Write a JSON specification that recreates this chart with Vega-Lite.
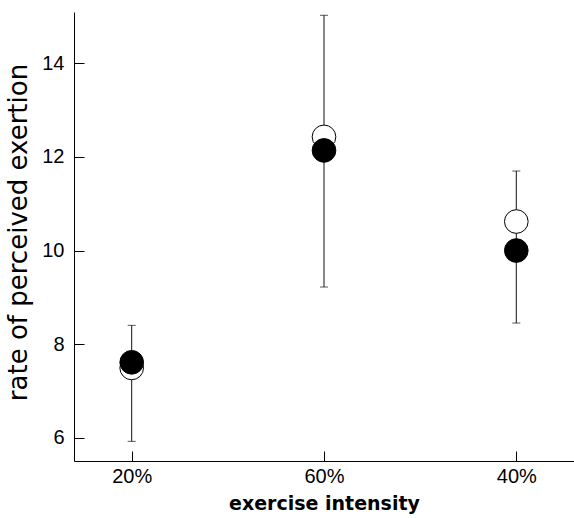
{
  "$schema": "https://vega.github.io/schema/vega-lite/v6.json",
  "width": 500,
  "height": 449,
  "autosize": "none",
  "padding": {"left": 74, "top": 12, "right": 0, "bottom": 57},
  "background": "white",
  "config": {
    "view": {"stroke": null},
    "axis": {
      "domainColor": "black",
      "tickColor": "black",
      "labelColor": "black",
      "titleColor": "black",
      "grid": false
    }
  },
  "data": {
    "values": [
      {"intensity": "20%", "open": 7.49, "filled": 7.61, "lo": 5.92, "hi": 8.40},
      {"intensity": "60%", "open": 12.43, "filled": 12.14, "lo": 9.22, "hi": 15.03},
      {"intensity": "40%", "open": 10.62, "filled": 10.0, "lo": 8.45, "hi": 11.70}
    ]
  },
  "encoding": {
    "x": {
      "field": "intensity",
      "type": "nominal",
      "sort": ["20%", "60%", "40%"],
      "scale": {"type": "point", "padding": 0.3},
      "axis": {
        "title": "exercise intensity",
        "titleFont": "DejaVu Sans",
        "titleFontSize": 19,
        "titleFontWeight": "bold",
        "titlePadding": 8,
        "labelAngle": 0,
        "labelFont": "Liberation Sans",
        "labelFontSize": 20,
        "tickSize": -10,
        "labelPadding": 15
      }
    }
  },
  "layer": [
    {
      "mark": {"type": "rule", "color": "#111", "strokeWidth": 1},
      "encoding": {
        "y": {
          "field": "lo",
          "type": "quantitative",
          "scale": {"domain": [5.5, 15.1], "nice": false, "zero": false},
          "axis": {
            "title": "rate of perceived exertion",
            "titleFont": "DejaVu Sans",
            "titleFontSize": 26,
            "titleFontWeight": "normal",
            "titleY": 220,
            "labelFont": "Liberation Sans",
            "labelFontSize": 20,
            "values": [6, 8, 10, 12, 14],
            "tickSize": -10,
            "labelPadding": 20,
            "titlePadding": 10
          }
        },
        "y2": {"field": "hi"}
      }
    },
    {
      "mark": {"type": "tick", "color": "#111", "size": 8, "thickness": 1},
      "encoding": {"y": {"field": "lo", "type": "quantitative"}}
    },
    {
      "mark": {"type": "tick", "color": "#111", "size": 8, "thickness": 1},
      "encoding": {"y": {"field": "hi", "type": "quantitative"}}
    },
    {
      "mark": {"type": "point", "shape": "circle", "size": 560, "filled": true, "fill": "white", "stroke": "black", "strokeWidth": 1, "opacity": 1},
      "encoding": {"y": {"field": "open", "type": "quantitative"}}
    },
    {
      "mark": {"type": "point", "shape": "circle", "size": 560, "filled": true, "fill": "black", "stroke": "black", "strokeWidth": 1, "opacity": 1},
      "encoding": {"y": {"field": "filled", "type": "quantitative"}}
    }
  ]
}
